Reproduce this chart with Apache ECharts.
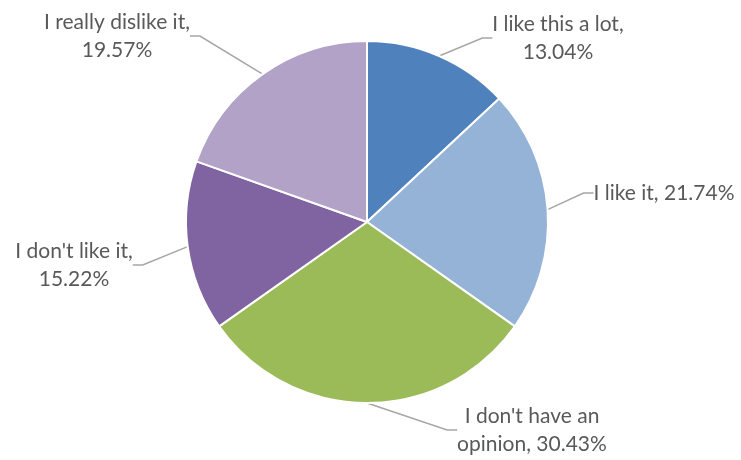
<!DOCTYPE html>
<html><head><meta charset="utf-8">
<script src="https://cdn.jsdelivr.net/npm/echarts@6/dist/echarts.min.js"></script>
<style>html,body{margin:0;padding:0;background:#fff}#c{width:741px;height:460px}</style>
</head><body><div id="c"></div>
<script>
const categories = ["I like this a lot", "I like it", "I don't have an opinion", "I don't like it", "I really dislike it"];
const counts = [6, 10, 14, 7, 9];
const labelTexts = ["I like this a lot,\n13.04%", "I like it, 21.74%", "I don't have an\nopinion, 30.43%", "I don't like it,\n15.22%", "I really dislike it,\n19.57%"];
const colors = ["#4F81BD", "#95B3D7", "#9BBB59", "#8064A2", "#B2A2C7"];
const labelAnchors = [[558, 38], [664, 193], [532, 430], [74, 265], [117, 36]];

const chart = echarts.init(document.getElementById('c'), null, {renderer: 'canvas'});
chart.setOption({
  animation: false,
  color: colors,
  series: [{
    type: 'pie',
    center: [367, 222],
    radius: 181,
    startAngle: 90,
    clockwise: true,
    data: categories.map((c, i) => ({name: c, value: counts[i]})),
    itemStyle: {borderColor: '#fff', borderWidth: 2},
    label: {
      formatter: p => labelTexts[p.dataIndex],
      color: '#595959',
      fontFamily: 'Lato',
      fontSize: 21,
      lineHeight: 28
    },
    labelLine: {show: true, length: 20, length2: 10, lineStyle: {color: '#A6A6A6', width: 1.5}},
    labelLayout: p => ({x: labelAnchors[p.dataIndex][0], y: labelAnchors[p.dataIndex][1], align: 'center', verticalAlign: 'middle'})
  }]
});
</script></body></html>
